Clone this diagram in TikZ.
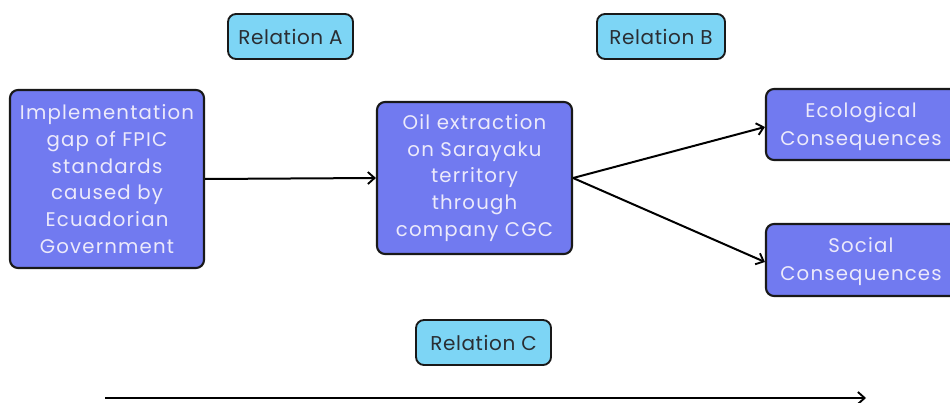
\documentclass[tikz,border=0pt]{standalone}
\usepackage{fontspec}
\setmainfont{Poppins}[LetterSpace=6]
\usetikzlibrary{arrows.meta}
\definecolor{boxpurple}{HTML}{717AF0}
\definecolor{boxtext}{HTML}{ECEAFB}
\definecolor{relblue}{HTML}{7DD5F5}
\definecolor{reltext}{HTML}{2A2E33}
\tikzset{
  mainbox/.style={draw=black!90, line width=1.6pt, fill=boxpurple, rounded corners=6pt, inner sep=0pt, text=boxtext, align=center, font=\fontsize{14.8pt}{20.1pt}\selectfont},
  boxlabel/.style={inner sep=0pt, text=boxtext, align=center, font=\fontsize{14.8pt}{20.4pt}\selectfont},
  relbox/.style={draw=black!90, line width=1.4pt, fill=relblue, rounded corners=6pt, inner sep=0pt, text=reltext, font=\fontsize{15pt}{17pt}\selectfont\addfontfeatures{LetterSpace=3}},
  conn/.style={line width=1.5pt, -{Straight Barb[length=5pt,width=9pt,line width=1.4pt]}}
}
\begin{document}
\begin{tikzpicture}[x=0.75pt,y=-0.75pt]
\clip (0,0) rectangle (950,403);
\fill[white] (0,0) rectangle (950,403);
\node[mainbox, minimum width=194*0.75pt, minimum height=178*0.75pt] (gap) at (107,179) {Implementation\\gap of FPIC\\standards\\caused by\\Ecuadorian\\Government};
\node[mainbox, minimum width=195*0.75pt, minimum height=152*0.75pt] (oil) at (474.5,178) {Oil extraction\\on Sarayaku\\territory\\through\\company CGC};
\node[mainbox, minimum width=200*0.75pt, minimum height=71*0.75pt] (eco) at (866,124.5) {};
\node[boxlabel] (ecot) at (861,126.5) {Ecological\\Consequences};
\node[mainbox, minimum width=200*0.75pt, minimum height=72*0.75pt] (soc) at (866,260) {};
\node[boxlabel] (soct) at (861,261.5) {Social\\Consequences};
\node[relbox, minimum width=125*0.75pt, minimum height=45*0.75pt] (ra) at (290.5,36.5) {Relation A};
\node[relbox, minimum width=128*0.75pt, minimum height=45*0.75pt] (rb) at (661,36.5) {Relation B};
\node[relbox, minimum width=135*0.75pt, minimum height=45*0.75pt] (rc) at (483.5,342.5) {Relation C};
\coordinate (tl) at (105,398);
\coordinate (tr) at (866,398);
\draw[conn] (gap.east) -- (oil.west);
\draw[conn] (oil.east) -- (eco.west |- 0,127);
\draw[conn] (oil.east) -- (soc.west |- 0,262);
\draw[conn] (tl) -- (tr);
\end{tikzpicture}
\end{document}
